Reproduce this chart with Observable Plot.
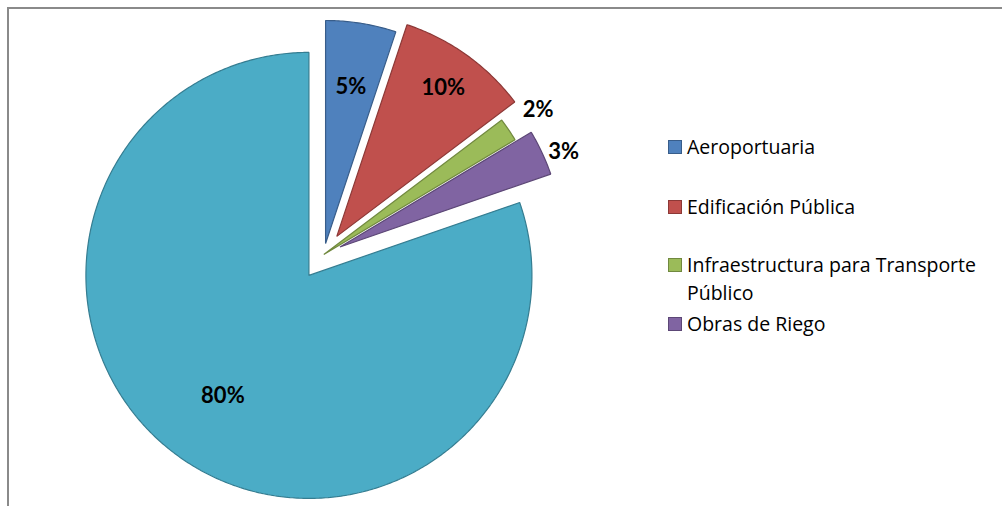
<!DOCTYPE html>
<html>
<head>
<meta charset="utf-8">
<script src="https://cdn.jsdelivr.net/npm/d3@7"></script>
<script src="https://cdn.jsdelivr.net/npm/@observablehq/plot@0.6"></script>
<style>
  html, body { margin: 0; padding: 0; background: #fff; }
  #wrap { position: relative; width: 1002px; height: 506px; overflow: hidden; font-family: "Open Sans", Lato, sans-serif; }
  #frame { position: absolute; left: 7px; top: 7px; right: -5px; bottom: -5px; border-top: 2px solid #8a8a8a; border-left: 2px solid #8a8a8a; }
  #chart { position: absolute; left: 0; top: 0; }
  #legend { position: absolute; left: 0; top: 0; }
  .item { position: absolute; left: 668px; display: flex; align-items: flex-start; font-size: 19.5px; line-height: 28px; color: #000; }
  .sw { width: 12px; height: 12px; border: 1px solid; margin-top: 7px; margin-right: 5px; flex: none; }
  .txt { width: 318px; }
</style>
</head>
<body>
<div id="wrap">
  <div id="frame"></div>
  <div id="chart"></div>
  <div id="legend"></div>
</div>
<script>
// ---- data ----
const categories = ["Aeroportuaria", "Edificación Pública", "Infraestructura para Transporte Público", "Obras de Riego", "Otros"];
const shares = [5.1, 9.6, 1.7, 3.3, 80.3];
const legendCategories = categories.slice(0, 4);

// ---- styles ----
const fills = ["#4F81BD", "#C0504D", "#9BBB59", "#8064A2", "#4BACC6"];
const strokes = ["#385D8A", "#8C3836", "#71893F", "#5C4776", "#357D91"];
const explode = [0.05, 0.10, 0, 0.08, 0.115];      // fraction of radius
const labelRadius = [0.71, 0.82, 1.16, 1.09, 0.665]; // fraction of radius from slice vertex
const labelShift = [0, 0, 0, 2, 0];                 // degrees, clockwise

// ---- layout ----
const W = 1002, H = 506, R = 223, CX = 323.3, CY = 254;
const legendTops = [133, 193, 251, 310];

const rows = categories.map((c, i) => ({category: c, value: shares[i], i}));
const arcs = d3.pie().sort(null).value(d => d.value)(rows);

const slicePoints = arcs.map(a => {
  const i = a.data.i;
  const mid = (a.startAngle + a.endAngle) / 2;
  const ox = explode[i] * Math.sin(mid), oy = explode[i] * Math.cos(mid);
  const n = Math.max(4, Math.ceil((a.endAngle - a.startAngle) / 0.01));
  const pts = [{x: ox, y: oy}];
  for (let k = 0; k <= n; k++) {
    const t = a.startAngle + (a.endAngle - a.startAngle) * k / n;
    pts.push({x: ox + Math.sin(t), y: oy + Math.cos(t)});
  }
  return {i, pts};
});

const labelRows = arcs.map(a => {
  const i = a.data.i;
  const mid = (a.startAngle + a.endAngle) / 2;
  const la = mid + labelShift[i] * Math.PI / 180;
  const ox = explode[i] * Math.sin(mid), oy = explode[i] * Math.cos(mid);
  return {x: ox + labelRadius[i] * Math.sin(la), y: oy + labelRadius[i] * Math.cos(la), text: Math.round(a.data.value) + "%"};
});

const order = [4, 0, 1, 2, 3];
const chart = Plot.plot({
  width: W,
  height: H,
  margin: 0,
  x: {domain: [-CX / R, (W - CX) / R], axis: null},
  y: {domain: [-(H - CY) / R, CY / R], axis: null},
  style: {fontFamily: "Lato, 'Open Sans', sans-serif", background: "transparent", overflow: "visible"},
  marks: [
    ...order.map(i => {
      const s = slicePoints.find(p => p.i === i);
      return Plot.line(s.pts, {x: "x", y: "y", curve: "linear-closed", fill: fills[i], stroke: strokes[i], strokeWidth: 1.2, strokeLinejoin: "miter"});
    }),
    Plot.text(labelRows, {x: "x", y: "y", text: "text", fontSize: 22, fontWeight: "bold", fill: "#000"})
  ]
});
document.getElementById("chart").appendChild(chart);

const legend = document.getElementById("legend");
legendCategories.forEach((c, i) => {
  const item = document.createElement("div");
  item.className = "item";
  item.style.top = legendTops[i] + "px";
  const sw = document.createElement("div");
  sw.className = "sw";
  sw.style.background = fills[i];
  sw.style.borderColor = strokes[i];
  const t = document.createElement("div");
  t.className = "txt";
  t.textContent = c;
  item.appendChild(sw);
  item.appendChild(t);
  legend.appendChild(item);
});
</script>
</body>
</html>
